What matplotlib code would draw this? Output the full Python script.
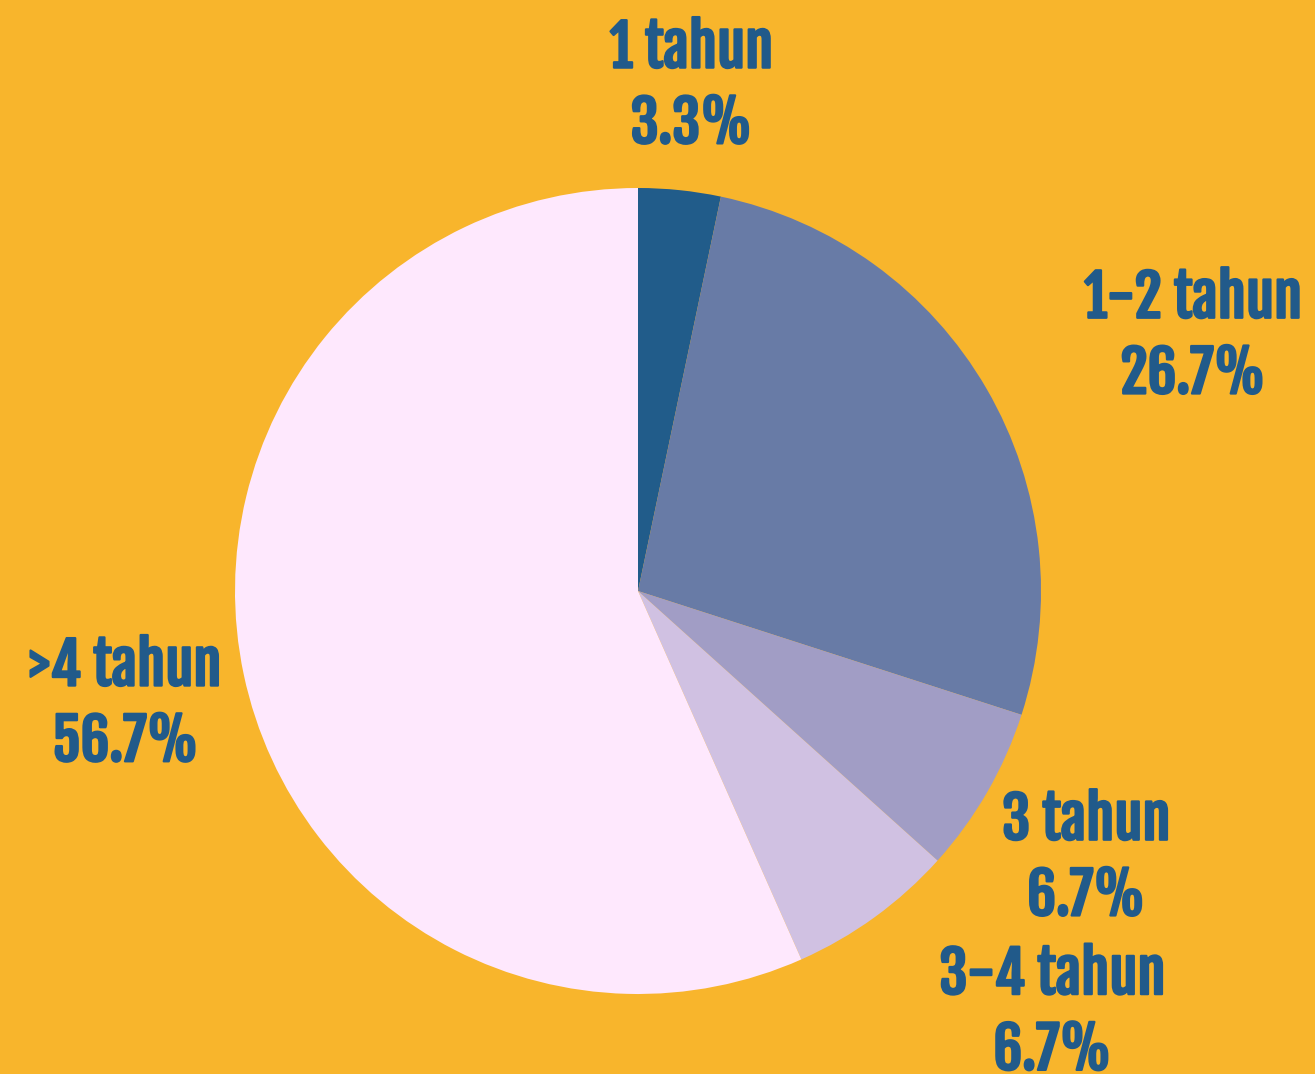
import matplotlib
matplotlib.use("Agg")
from matplotlib import pyplot as plt
from matplotlib import patheffects
import numpy as np

labels = ["1 tahun", "1-2 tahun", "3 tahun", "3-4 tahun", ">4 tahun"]
values = [3.3, 26.7, 6.7, 6.7, 56.7]
colors = ["#215c8a", "#687ba6", "#a19dc5", "#d0c1e2", "#fee8fd"]
# label placement (distance in radii, angle in degrees) - hand tuned
label_pos = [(1.27, 84), (1.52, 25), (1.29, -30.4), (1.46, -45.2), (1.30, 192)]

bg = "#f8b52c"
txt_color = "#215a8a"

fig = plt.figure(figsize=(13.15, 10.74), dpi=100, facecolor=bg)
ax = fig.add_axes([0, 0, 1, 1])
ax.set_facecolor(bg)

wedges, _ = ax.pie(values, colors=colors, startangle=90, counterclock=False,
                   radius=1, wedgeprops=dict(linewidth=0))

# thin stroke to make Fjalla look a bit heavier
bold = [patheffects.withStroke(linewidth=1.6, foreground=txt_color)]
for lab, v, (d, a) in zip(labels, values, label_pos):
    x = d * np.cos(np.radians(a))
    y = d * np.sin(np.radians(a))
    ax.text(x, y - 0.01, f"{lab}\n{v}%", ha="center", va="center", fontsize=41,
            color=txt_color, family=["Fjalla One", "DejaVu Sans"], linespacing=1.25,
            path_effects=bold)

ax.set_xlim(-638 / 403, (1315 - 638) / 403)
ax.set_ylim(-(1074 - 591) / 403, 591 / 403)
ax.set_aspect("equal")
ax.axis("off")

fig.savefig("out.png", dpi=100, facecolor=bg)
